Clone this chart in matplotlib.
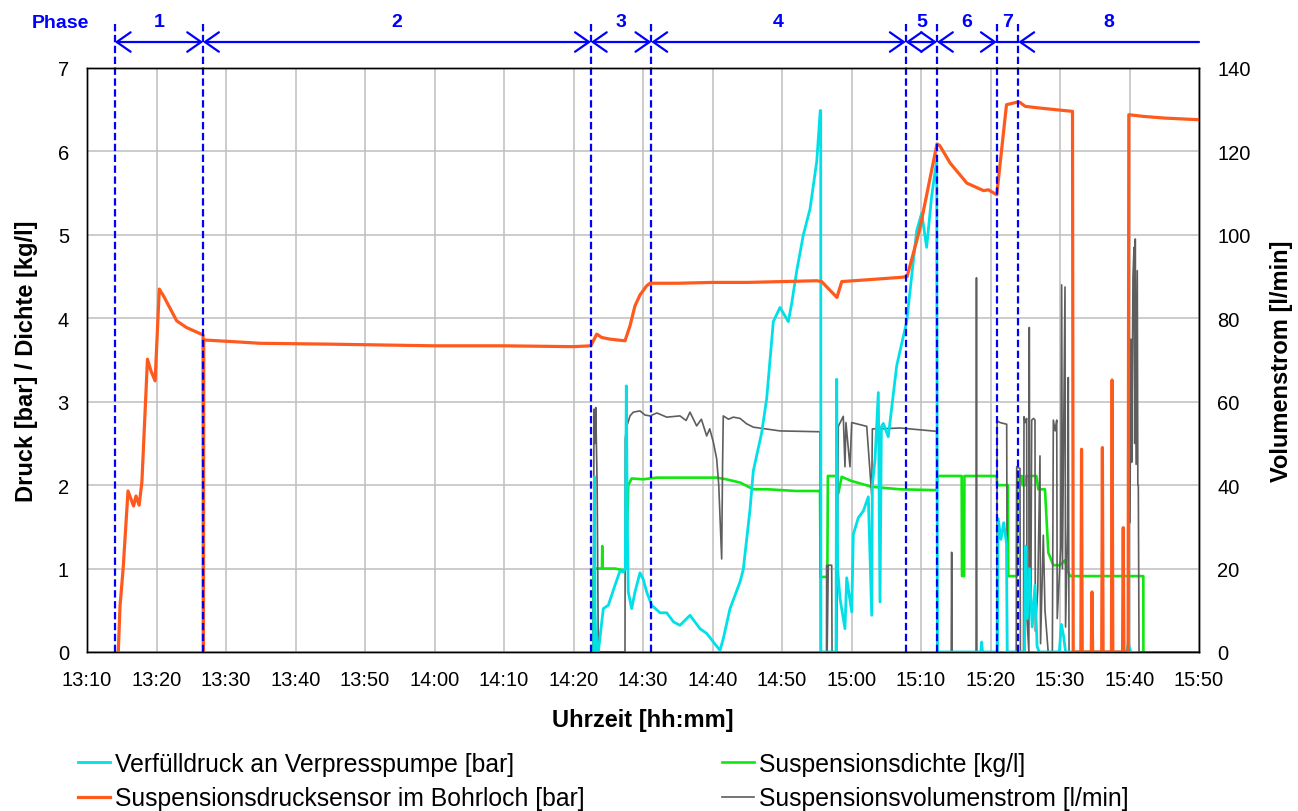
import matplotlib
matplotlib.use('Agg')
import matplotlib.pyplot as plt
import matplotlib.transforms as mtransforms
from matplotlib.ticker import MultipleLocator, FuncFormatter

plt.rcParams['font.family'] = ['Liberation Sans', 'DejaVu Sans']

# time in minutes after 13:00
# Verfülldruck an Verpresspumpe [bar]
verfuell = [
    (82.9, 0), (83.02, 2.1), (83.1, 0.5), (83.24, 0), (83.57, 0), (84.29, 0.52), (85.01, 0.56),
    (85.97, 0.80), (86.69, 0.97), (87.17, 0.96), (87.45, 1.0), (87.6, 3.19), (87.75, 1.5),
    (87.88, 0.72), (88.37, 0.52), (88.85, 0.72), (89.57, 0.95), (90.04, 0.87), (90.53, 0.72),
    (91.25, 0.56), (92.45, 0.47), (93.41, 0.47), (94.4, 0.36), (95.32, 0.32), (96.76, 0.44),
    (98.20, 0.28), (99.2, 0.22), (100.12, 0.12), (101.08, 0.02), (101.55, 0.16), (102.52, 0.52),
    (103.96, 0.84), (104.43, 0.99), (105.40, 1.71), (105.87, 2.17), (107.08, 2.63), (107.80, 3.04),
    (108.75, 3.96), (109.71, 4.13), (110.91, 3.96), (111.40, 4.18), (112.12, 4.57), (113.07, 5.00),
    (114.03, 5.31), (115.00, 5.88), (115.5, 6.49), (115.57, 6.49), (115.6, 0), (117.77, 0),
    (117.87, 3.27), (118.0, 1.0), (118.35, 0.64), (119.06, 0.28), (119.31, 0.89), (120.03, 0.48),
    (120.26, 1.41), (120.98, 1.61), (121.70, 1.69), (122.42, 1.86), (122.91, 0.44), (123.0, 2.0),
    (123.38, 2.30), (123.86, 3.11), (124.10, 0.6), (124.3, 2.7), (124.58, 2.74), (125.29, 2.58),
    (126.50, 3.43), (127.94, 3.96), (129.38, 5.05), (130.10, 5.26), (130.81, 4.85), (131.53, 5.46),
    (132.26, 5.90), (132.37, 0), (138.6, 0), (138.73, 0.12), (138.85, 0), (141.0, 0), (141.1, 1.6),
    (141.5, 1.35), (141.9, 1.55), (142.3, 1.3), (142.4, 0), (144.9, 0), (145.0, 1.27), (145.3, 0.4),
    (145.6, 1.0), (146.0, 0.3), (146.4, 0.8), (146.7, 0.07), (147.0, 0), (149.9, 0), (150.2, 0.33),
    (150.5, 0.2), (150.8, 0), (159.6, 0), (159.8, 0.1), (160.2, 0),
]

# Suspensionsdrucksensor im Bohrloch [bar]
bohrloch = [
    (14.5, 0), (14.75, 0.55), (15.2, 1.0), (15.9, 1.93), (16.7, 1.75), (17.05, 1.87), (17.5, 1.76),
    (17.9, 2.04), (18.7, 3.51), (19.2, 3.37), (19.8, 3.25), (20.4, 4.35), (21.0, 4.27), (22.9, 3.97),
    (24.3, 3.89), (26.7, 3.80), (26.75, 0), (26.8, 3.74), (31.0, 3.72), (35.0, 3.70), (45.0, 3.69),
    (60.0, 3.67), (70.0, 3.67), (80.0, 3.66), (82.5, 3.67), (83.34, 3.81), (84.06, 3.77),
    (85.25, 3.75), (87.41, 3.73), (88.13, 3.91), (88.85, 4.15), (89.57, 4.28), (90.53, 4.39),
    (91.01, 4.42), (95.0, 4.42), (100.0, 4.43), (105.0, 4.43), (110.0, 4.44), (115.0, 4.45),
    (115.7, 4.44), (117.9, 4.25), (118.6, 4.44), (122.0, 4.46), (127.0, 4.49), (128.0, 4.50),
    (129.8, 5.06), (132.3, 6.09), (132.7, 6.07), (134.2, 5.86), (136.6, 5.62), (139.0, 5.53),
    (139.7, 5.54), (140.9, 5.48), (142.3, 6.56), (143.8, 6.59), (144.2, 6.59), (145.0, 6.54),
    (147.1, 6.52), (151.8, 6.48), (151.9, 0), (153.0, 0), (153.1, 2.43), (153.2, 0), (154.5, 0),
    (154.6, 0.72), (154.7, 0), (156.0, 0), (156.1, 2.45), (156.2, 0), (157.4, 0), (157.5, 3.26),
    (157.6, 0), (159.0, 0), (159.1, 1.49), (159.2, 0), (159.8, 0), (159.9, 6.44), (162.0, 6.42),
    (165.0, 6.40), (170.0, 6.38),
]

# Suspensionsdichte [kg/l]
dichte = [
    (82.85, 0), (82.9, 1.0), (84.1, 1.0), (84.14, 1.27), (84.2, 1.0), (86.0, 1.0), (87.17, 0.98),
    (87.55, 1.0), (87.88, 2.0), (88.37, 2.08), (90.0, 2.07), (92.0, 2.09), (96.0, 2.09),
    (100.6, 2.09), (102.0, 2.07), (104.0, 2.03), (105.87, 1.95), (108.0, 1.95), (112.0, 1.93),
    (115.47, 1.93), (115.55, 0.90), (116.52, 0.90), (116.6, 2.11), (117.87, 2.11), (118.10, 1.90),
    (118.59, 2.10), (120.0, 2.05), (122.91, 1.98), (127.0, 1.95), (132.26, 1.94), (132.35, 2.11),
    (135.85, 2.11), (135.9, 0.91), (136.2, 0.91), (136.25, 2.11), (140.89, 2.11), (140.95, 2.0),
    (142.5, 2.0), (142.56, 0.91), (143.8, 0.91), (143.86, 2.11), (144.5, 2.11), (144.6, 2.0),
    (145.1, 2.0), (145.15, 2.11), (146.6, 2.11), (146.88, 1.95), (147.84, 1.95), (148.32, 1.19),
    (149.04, 1.04), (150.0, 1.04), (150.72, 1.1), (151.0, 1.0), (151.44, 0.91), (161.99, 0.91),
    (162.0, 0),
]

# Suspensionsvolumenstrom [l/min]
volumen = [
    (82.85, 0), (82.95, 58.2), (83.1, 50), (83.2, 58.6), (83.4, 40), (83.57, 0), (87.41, 0),
    (87.45, 51.1), (87.65, 54.0), (88.13, 56.6), (88.61, 57.5), (89.57, 57.8), (90.3, 56.8),
    (91.01, 56.6), (92.0, 57.3), (93.41, 56.3), (95.32, 56.6), (96.2, 55.5), (96.76, 57.5),
    (97.72, 54.2), (98.4, 55.8), (99.16, 51.8), (99.6, 53.5), (100.12, 50.3), (100.60, 46.3),
    (100.9, 40.0), (101.32, 22.3), (101.45, 45.0), (101.55, 56.6), (102.3, 55.8), (102.99, 56.3),
    (103.96, 56.0), (104.92, 54.7), (105.87, 53.9), (109.71, 53.0), (115.47, 52.8), (115.54, 0),
    (116.40, 0), (116.43, 20.8), (116.5, 0), (116.66, 20.8), (117.15, 20.8), (117.2, 0),
    (117.87, 0), (118.10, 54.1), (118.82, 56.5), (119.06, 44.4), (119.2, 55.0), (119.78, 44.4),
    (120.03, 55.0), (122.19, 54.1), (122.91, 37.5), (123.0, 53.5), (124.0, 53.5), (124.10, 40.3),
    (124.2, 53.5), (126.98, 53.7), (132.26, 52.9), (132.30, 0), (134.35, 0), (134.41, 23.9),
    (134.47, 0), (137.92, 0), (137.98, 89.7), (138.04, 0), (140.89, 0), (140.95, 55.4),
    (141.37, 55.0), (142.33, 54.6), (142.42, 0), (143.70, 0), (143.77, 44.4), (144.24, 44.0),
    (144.30, 0), (144.75, 0), (144.82, 56.4), (145.0, 55), (145.20, 56.0), (145.25, 8),
    (145.52, 0), (145.58, 77.8), (145.65, 25), (145.80, 10), (145.93, 55.6), (146.2, 56),
    (146.40, 55.6), (146.45, 5), (146.80, 15), (147.12, 47), (147.2, 2), (147.6, 28),
    (147.84, 10), (148.3, 0), (148.9, 0), (149.04, 55.6), (149.3, 53), (149.53, 55.6), (149.6, 8),
    (150.1, 25), (150.24, 88.0), (150.35, 20), (150.72, 87.5), (150.8, 6), (151.1, 30),
    (151.19, 65.8), (151.3, 0), (159.85, 0), (159.93, 81.5), (160.07, 31), (160.2, 75),
    (160.32, 45.5), (160.5, 90), (160.65, 97), (160.75, 50), (160.83, 99), (160.95, 45),
    (161.12, 91.4), (161.20, 40), (161.27, 39.9), (161.37, 0), (170.0, 0),
]

phase_names = ['1', '2', '3', '4', '5', '6', '7', '8']
phase_starts = [14.0, 26.7, 82.5, 91.2, 127.8, 132.3, 140.9, 144.0]
phase_ends = [26.7, 82.5, 91.2, 127.8, 132.3, 140.9, 144.0, 170.0]

C_CYAN = '#00E0E6'
C_ORANGE = '#FF5A1E'
C_GREEN = '#10E610'
C_GRAY = '#5E5E5E'
C_BLUE = '#0000FF'


def unzip(pairs):
    return [p[0] for p in pairs], [p[1] for p in pairs]


def hhmm(v, pos):
    v = int(round(v))
    return f'{13 + v // 60}:{v % 60:02d}'


fig = plt.figure(figsize=(12.98, 8.12), dpi=100)
ax = fig.add_axes([87 / 1298, 1 - 653 / 812, 1112 / 1298, 584 / 812])
ax2 = ax.twinx()

ax.set_xlim(10, 170)
ax.set_ylim(0, 7)
ax2.set_ylim(0, 140)
ax.xaxis.set_major_locator(MultipleLocator(10))
ax.xaxis.set_major_formatter(FuncFormatter(hhmm))
ax.yaxis.set_major_locator(MultipleLocator(1))
ax2.yaxis.set_major_locator(MultipleLocator(20))

ax.grid(True, color='#BFBFBF', lw=1.1)
ax.set_axisbelow(True)
for a in (ax, ax2):
    a.tick_params(length=0, labelsize=14.5, pad=13)
    for s in a.spines.values():
        s.set_color('black')
        s.set_linewidth(1.0)

# series (volume drawn in ax with the right-axis scale so it stays below cyan/orange)
t, v = unzip(dichte)
l_green, = ax.plot(t, v, color=C_GREEN, lw=1.9, zorder=2, label='Suspensionsdichte [kg/l]')
t, v = unzip(volumen)
l_gray, = ax.plot(t, v, color=C_GRAY, lw=1.2, zorder=3, transform=ax2.transData,
                  label='Suspensionsvolumenstrom [l/min]')
t, v = unzip(verfuell)
l_cyan, = ax.plot(t, v, color=C_CYAN, lw=2.0, zorder=4, label='Verfülldruck an Verpresspumpe [bar]')
t, v = unzip(bohrloch)
l_orange, = ax.plot(t, v, color=C_ORANGE, lw=2.3, zorder=5,
                    label='Suspensionsdrucksensor im Bohrloch [bar]')
ax.set_xlim(10, 170)
ax.set_ylim(0, 7)

# phase markers
trans = mtransforms.blended_transform_factory(ax.transData, ax.transAxes)
bounds = sorted(set(phase_starts + phase_ends[:-1]))
for b in bounds:
    ax.plot([b, b], [0, 1.075], transform=trans, color=C_BLUE, lw=1.6,
            ls=(0, (3.3, 1.6)), clip_on=False, zorder=6)

for i, name in enumerate(phase_names):
    s, e = phase_starts[i], phase_ends[i]
    if name == '7':
        style = '-'
    elif name == '8':
        style = '<-,head_length=0.5,head_width=0.35'
    else:
        style = '<->,head_length=0.5,head_width=0.35'
    ax.annotate('', xy=(e, 1.0445), xytext=(s, 1.0445), xycoords=trans, textcoords=trans,
                annotation_clip=False,
                arrowprops=dict(arrowstyle=style, color=C_BLUE, lw=1.6, shrinkA=0, shrinkB=0,
                                mutation_scale=20))
    ax.text((s + e) / 2, 1.079, name, transform=trans, ha='center', va='center',
            color=C_BLUE, fontsize=14, fontweight='bold')
fig.text(60 / 1298, 1 - 23 / 812, 'Phase', ha='center', va='center', color=C_BLUE,
         fontsize=14, fontweight='bold')

ax.set_xlabel('Uhrzeit [hh:mm]', fontsize=17, fontweight='bold', labelpad=14)
ax.set_ylabel('Druck [bar] / Dichte [kg/l]', fontsize=17, fontweight='bold', labelpad=14)
ax2.set_ylabel('Volumenstrom [l/min]', fontsize=17, fontweight='bold', labelpad=14)

leg_kw = dict(loc='upper left', frameon=False, fontsize=17.8, handlelength=1.3,
              handletextpad=0.2, borderpad=0, borderaxespad=0, labelspacing=0.42)
fig.legend(handles=[l_cyan, l_orange], bbox_to_anchor=(78 / 1298, 1 - 753 / 812), **leg_kw)
fig.legend(handles=[l_green, l_gray], bbox_to_anchor=(722 / 1298, 1 - 753 / 812), **leg_kw)

fig.savefig('out.png', dpi=100)
